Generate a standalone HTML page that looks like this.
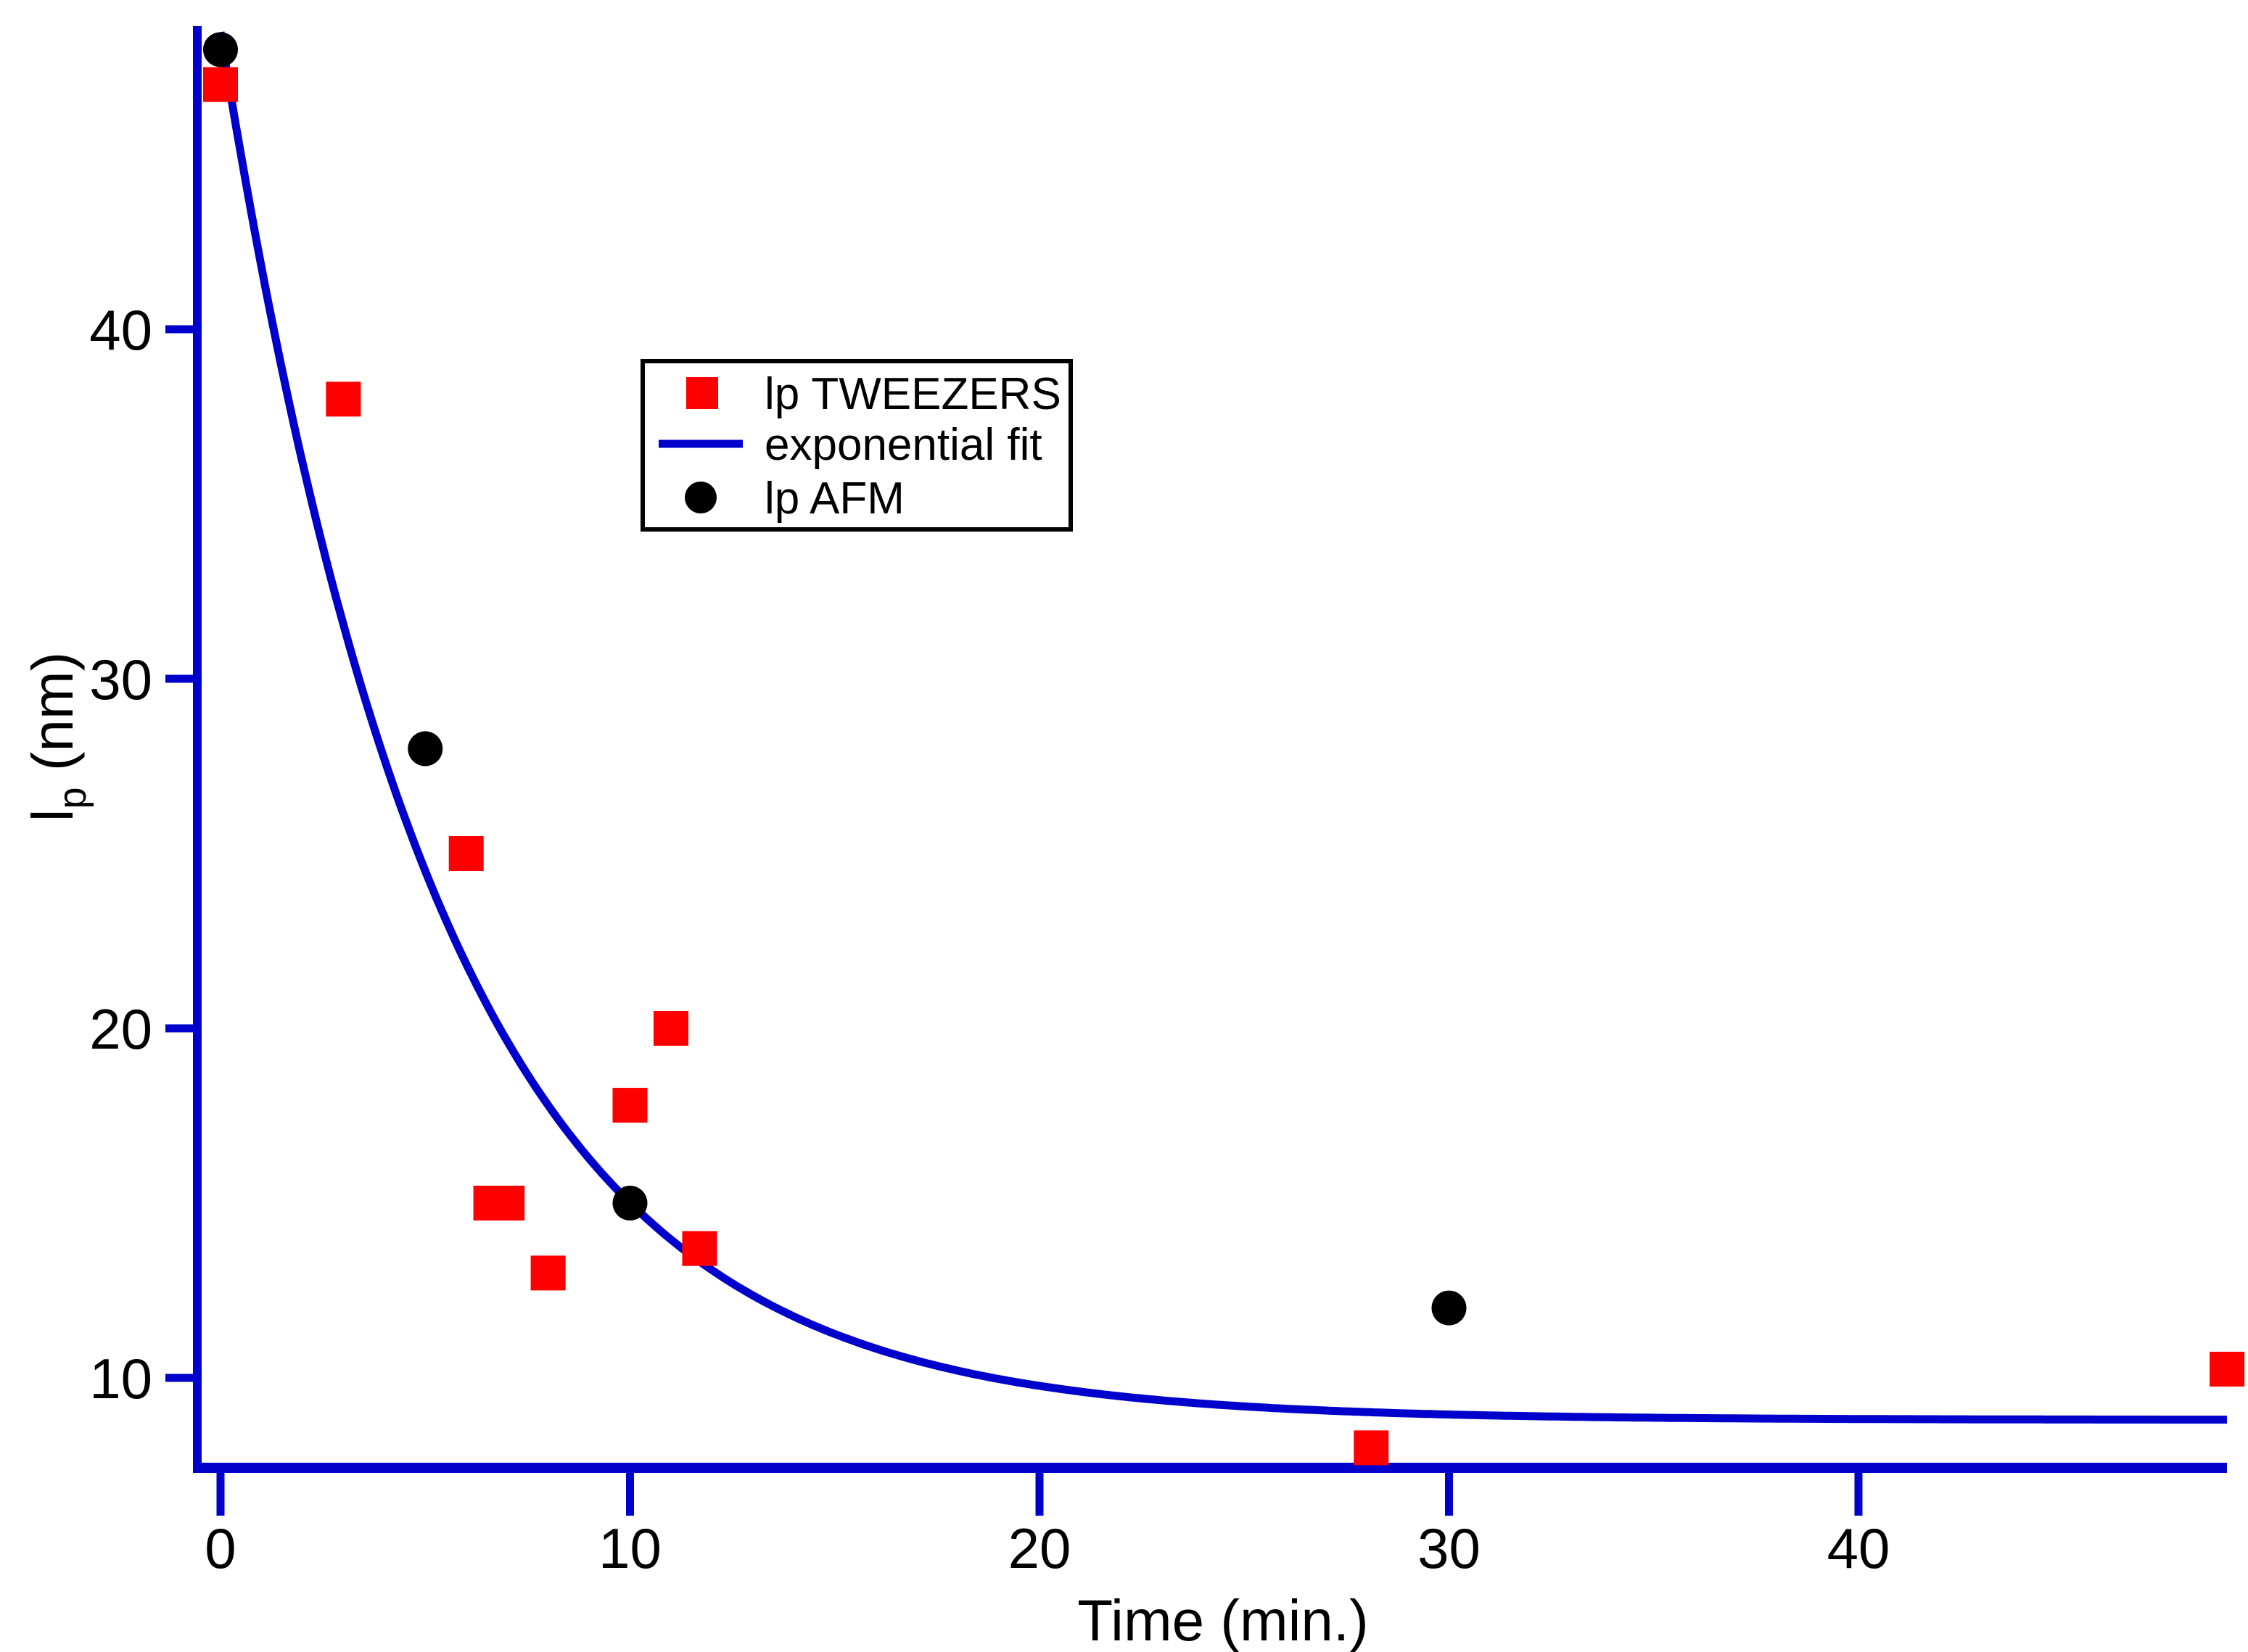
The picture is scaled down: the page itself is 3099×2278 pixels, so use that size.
<!DOCTYPE html>
<html><head><meta charset="utf-8"><style>
html,body{margin:0;padding:0;background:#fff}
svg{display:block}
text{font-family:"Liberation Sans",Arial,sans-serif;fill:#000}
</style></head><body>
<svg id="chart" width="3099" height="2278" viewBox="0 0 3099 2278" xmlns="http://www.w3.org/2000/svg">
<g id="axes"></g>
<g id="fit"></g>
<g id="marks"></g>
<g id="legend">
  <rect x="886" y="498" width="590" height="232" fill="#fff" stroke="#000" stroke-width="6"/>
  <rect x="946" y="520" width="44" height="44" fill="#ff0000"/>
  <text x="1054" y="564" font-size="62">lp TWEEZERS</text>
  <line x1="908" y1="612" x2="1024" y2="612" stroke="#0000cc" stroke-width="11"/>
  <text x="1054" y="634" font-size="62">exponential fit</text>
  <circle cx="966" cy="686" r="22" fill="#000"/>
  <text x="1054" y="708" font-size="62">lp AFM</text>
</g>
<text x="1686" y="2262" font-size="80" text-anchor="middle">Time (min.)</text>
<text transform="translate(100,1016) rotate(-90)" font-size="80" text-anchor="middle">l<tspan font-size="54" dy="18">p</tspan><tspan dy="-18"> (nm)</tspan></text>
</svg>
<script>
const xTicks = [0, 10, 20, 30, 40];
const yTicks = [10, 20, 30, 40];
const tweezT = [0, 3, 6, 6.6, 7, 8, 10, 11, 11.7, 28.1, 49];
const tweezV = [47, 38, 25, 15, 15, 13, 17.8, 20, 13.7, 8.0, 10.25];
const afmT = [0, 5, 10, 30];
const afmV = [48, 28, 15, 12];
const fitY0 = [8.8];
const fitA = [39.7];
const fitTau = [5.39];

const NS = 'http://www.w3.org/2000/svg';
const X0 = 304, XS = 56.45, Y10 = 1900, YS = 48.2;
function xs(t){ return X0 + XS*t; }
function ys(v){ return Y10 - YS*(v-10); }
const LEFT = 272, RIGHT = 3070, TOP = 36, BOTTOM = 2024;
function mk(tag, attrs, parent){
  const e = document.createElementNS(NS, tag);
  for (const k in attrs) e.setAttribute(k, attrs[k]);
  parent.appendChild(e);
  return e;
}
const axes = document.getElementById('axes');
let e;
e = mk('line', {x1:LEFT, y1:TOP, x2:LEFT, y2:BOTTOM+7, stroke:'#0000cc', 'stroke-width':12}, axes);


e = mk('line', {x1:LEFT-6, y1:BOTTOM, x2:RIGHT, y2:BOTTOM, stroke:'#0000cc', 'stroke-width':14}, axes);


xTicks.forEach(t => {
  const tk = mk('line', {x1:xs(t), y1:BOTTOM, x2:xs(t), y2:2090, stroke:'#0000cc', 'stroke-width':11}, axes);
  
  
  const lb = mk('text', {x:xs(t), y:2162, 'font-size':78, 'text-anchor':'middle'}, axes);
  lb.textContent = t;
  
  
});
yTicks.forEach(v => {
  const tk = mk('line', {x1:228, y1:ys(v), x2:LEFT, y2:ys(v), stroke:'#0000cc', 'stroke-width':11}, axes);
  
  
  const lb = mk('text', {x:210, y:ys(v)+28, 'font-size':78, 'text-anchor':'end'}, axes);
  lb.textContent = v;
  
  
});
const fitG = document.getElementById('fit');
let d = '';
const tEnd = (RIGHT - X0)/XS;
for (let i = 0; i <= 400; i++) {
  const t = tEnd*i/400;
  const v = fitY0[0] + fitA[0]*Math.exp(-t/fitTau[0]);
  let y = Math.max(ys(v), TOP);
  d += (i ? 'L' : 'M') + xs(t).toFixed(1) + ',' + y.toFixed(1);
}
e = mk('path', {d:d, fill:'none', stroke:'#0000cc', 'stroke-width':11}, fitG);


const marks = document.getElementById('marks');
tweezT.forEach((t, i) => {
  const r = mk('rect', {x:xs(t)-24, y:ys(tweezV[i])-24, width:48, height:48, fill:'#ff0000'}, marks);
  
  
});
afmT.forEach((t, i) => {
  const c = mk('circle', {cx:xs(t), cy:ys(afmV[i]), r:24, fill:'#000'}, marks);
  
  
});
</script>
</body></html>
